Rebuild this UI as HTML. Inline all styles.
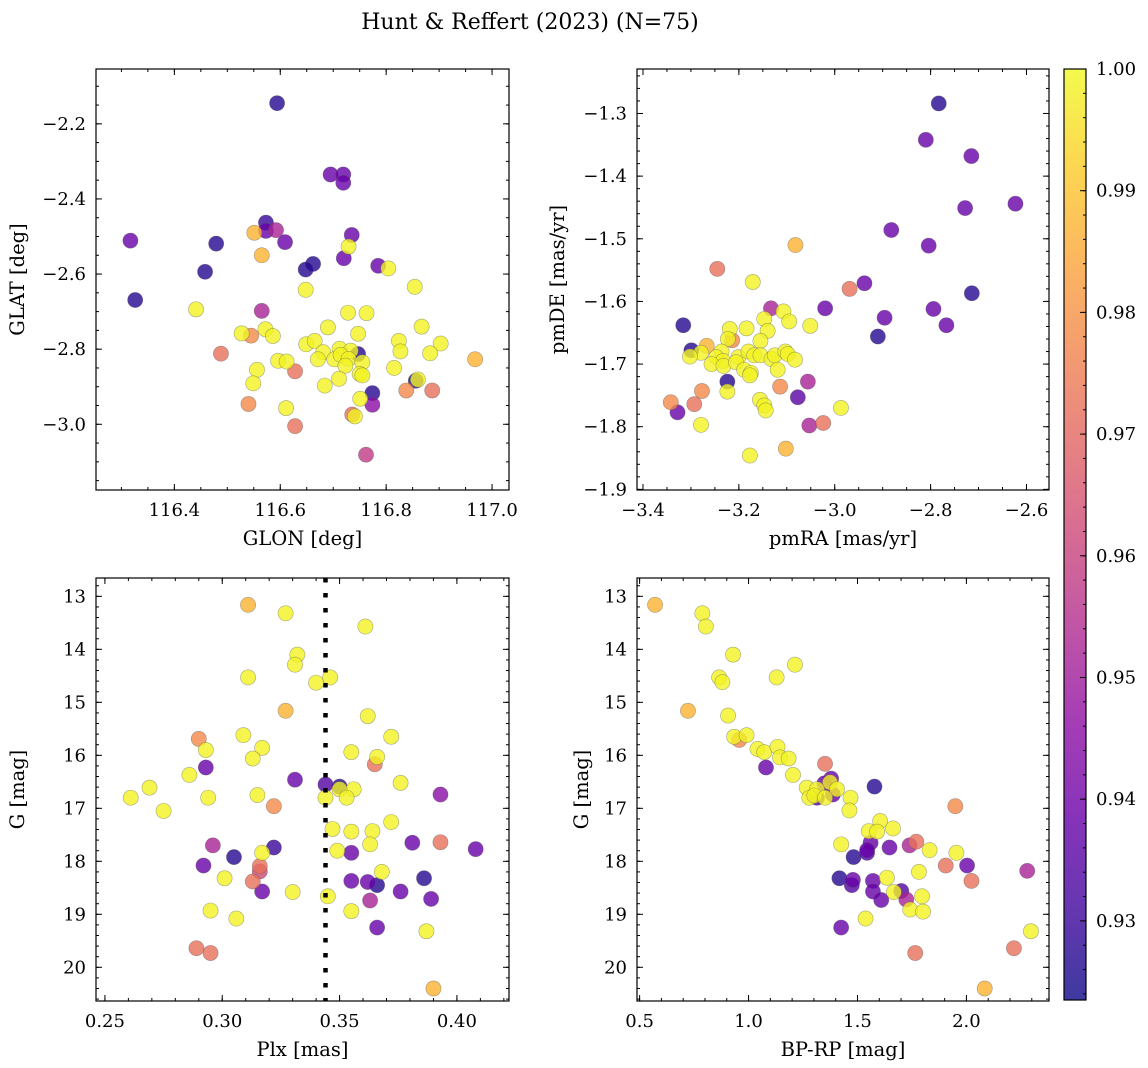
<!DOCTYPE html>
<html><head><meta charset="utf-8">
<style>
html,body{margin:0;padding:0;background:#fff;}
svg{display:block;font-family:"DejaVu Serif","Liberation Serif",serif;}
</style></head>
<body>
<svg id="chart" width="1148" height="1068" viewBox="0 0 1148 1068" xmlns="http://www.w3.org/2000/svg">
<text x="530" y="29" font-size="22" text-anchor="middle">Hunt &amp; Reffert (2023) (N=75)</text>
</svg>
<script>
// Panel 1: GLON vs GLAT
const p1Lon=[116.594,116.695,116.719,116.719,116.573,116.573,116.592,116.551,116.317,116.479,116.609,116.735,116.729,116.565,116.720,116.662,116.648,116.458,116.785,116.804,116.854,116.648,116.326,116.441,116.565,116.728,116.763,116.690,116.867,116.572,116.527,116.545,116.586,116.747,116.824,116.903,116.649,116.665,116.681,116.712,116.733,116.747,116.827,116.883,116.488,116.671,116.702,116.714,116.729,116.755,116.968,116.596,116.612,116.723,116.815,116.556,116.628,116.750,116.755,116.711,116.856,116.860,116.549,116.684,116.774,116.838,116.887,116.751,116.540,116.774,116.611,116.736,116.741,116.628,116.762];
const p1Lat=[-2.145,-2.335,-2.335,-2.357,-2.463,-2.485,-2.483,-2.490,-2.511,-2.519,-2.515,-2.496,-2.527,-2.550,-2.558,-2.573,-2.588,-2.594,-2.578,-2.585,-2.634,-2.642,-2.669,-2.694,-2.698,-2.703,-2.704,-2.742,-2.740,-2.747,-2.758,-2.764,-2.765,-2.759,-2.778,-2.785,-2.787,-2.778,-2.808,-2.799,-2.804,-2.813,-2.806,-2.811,-2.812,-2.827,-2.827,-2.815,-2.826,-2.835,-2.827,-2.831,-2.833,-2.844,-2.850,-2.855,-2.859,-2.866,-2.870,-2.879,-2.884,-2.881,-2.891,-2.897,-2.917,-2.910,-2.910,-2.932,-2.946,-2.948,-2.957,-2.974,-2.979,-3.005,-3.081];
const p1Prob=[0.927,0.938,0.938,0.938,0.930,0.938,0.952,0.987,0.938,0.927,0.938,0.938,0.999,0.987,0.938,0.927,0.927,0.927,0.938,0.999,0.999,0.999,0.927,0.999,0.952,0.999,0.999,0.999,0.999,0.999,0.999,0.978,0.999,0.999,0.999,0.999,0.999,0.999,0.999,0.999,0.999,0.927,0.999,0.999,0.972,0.999,0.999,0.999,0.999,0.999,0.987,0.999,0.999,0.999,0.999,0.999,0.972,0.999,0.999,0.999,0.927,0.999,0.999,0.999,0.927,0.978,0.972,0.999,0.978,0.945,0.999,0.972,0.999,0.972,0.958];
// Panel 2: pmRA vs pmDE
const p2Ra=[-2.783,-2.810,-2.715,-2.728,-2.623,-2.882,-2.804,-3.082,-3.245,-3.171,-2.969,-2.938,-2.714,-3.020,-2.794,-3.133,-3.107,-3.147,-3.095,-2.896,-2.767,-3.316,-3.051,-3.219,-3.184,-3.140,-3.155,-3.214,-3.223,-2.910,-3.267,-3.299,-3.279,-3.236,-3.302,-3.247,-3.233,-3.201,-3.180,-3.168,-3.155,-3.132,-3.125,-3.103,-3.098,-3.083,-3.257,-3.232,-3.206,-3.189,-3.175,-3.177,-3.119,-3.224,-3.056,-3.114,-3.224,-3.277,-3.077,-3.156,-3.147,-3.144,-3.342,-3.293,-3.328,-2.987,-3.053,-3.024,-3.279,-3.102,-3.177];
const p2De=[-1.284,-1.342,-1.368,-1.451,-1.444,-1.486,-1.511,-1.510,-1.548,-1.569,-1.580,-1.571,-1.587,-1.611,-1.612,-1.611,-1.616,-1.628,-1.632,-1.626,-1.638,-1.638,-1.639,-1.644,-1.643,-1.647,-1.663,-1.662,-1.660,-1.656,-1.671,-1.678,-1.682,-1.680,-1.688,-1.689,-1.695,-1.689,-1.680,-1.686,-1.686,-1.692,-1.686,-1.680,-1.684,-1.693,-1.700,-1.703,-1.697,-1.709,-1.714,-1.718,-1.709,-1.728,-1.728,-1.736,-1.744,-1.743,-1.753,-1.757,-1.766,-1.774,-1.761,-1.764,-1.777,-1.770,-1.798,-1.794,-1.797,-1.835,-1.846];
const p2Prob=[0.927,0.938,0.938,0.938,0.938,0.938,0.938,0.987,0.972,0.999,0.972,0.938,0.927,0.938,0.938,0.952,0.999,0.999,0.999,0.938,0.938,0.927,0.999,0.999,0.999,0.999,0.999,0.978,0.999,0.927,0.987,0.927,0.999,0.999,0.999,0.999,0.999,0.999,0.999,0.999,0.999,0.999,0.999,0.999,0.999,0.999,0.999,0.999,0.999,0.999,0.999,0.999,0.999,0.927,0.952,0.978,0.999,0.978,0.936,0.999,0.999,0.999,0.978,0.972,0.938,0.999,0.952,0.972,0.999,0.987,0.999];
// Panel 3: Plx vs G
const p3Plx=[0.311,0.327,0.361,0.332,0.331,0.311,0.340,0.346,0.327,0.362,0.290,0.309,0.372,0.293,0.317,0.313,0.355,0.366,0.365,0.293,0.286,0.331,0.344,0.350,0.376,0.269,0.356,0.350,0.393,0.261,0.294,0.315,0.344,0.353,0.275,0.322,0.372,0.347,0.355,0.364,0.296,0.322,0.317,0.349,0.355,0.363,0.381,0.393,0.408,0.305,0.292,0.316,0.316,0.301,0.313,0.368,0.355,0.362,0.366,0.386,0.317,0.330,0.345,0.376,0.363,0.389,0.295,0.355,0.306,0.366,0.387,0.289,0.295,0.390];
const p3G=[13.16,13.32,13.57,14.10,14.29,14.53,14.63,14.53,15.16,15.26,15.69,15.62,15.65,15.90,15.86,16.06,15.94,16.03,16.17,16.23,16.37,16.46,16.55,16.59,16.52,16.61,16.64,16.64,16.74,16.80,16.80,16.75,16.80,16.80,17.05,16.96,17.26,17.39,17.44,17.43,17.70,17.74,17.84,17.80,17.84,17.68,17.65,17.64,17.77,17.92,18.08,18.09,18.19,18.32,18.38,18.20,18.37,18.39,18.45,18.32,18.57,18.58,18.66,18.57,18.74,18.71,18.93,18.94,19.08,19.25,19.32,19.64,19.73,20.40];
const p3Prob=[0.987,0.999,0.999,0.999,0.999,0.999,0.999,0.999,0.987,0.999,0.978,0.999,0.999,0.999,0.999,0.999,0.999,0.999,0.972,0.938,0.999,0.938,0.934,0.927,0.999,0.999,0.999,0.999,0.945,0.999,0.999,0.999,0.999,0.999,0.999,0.978,0.999,0.999,0.999,0.999,0.952,0.930,0.999,0.999,0.938,0.999,0.938,0.972,0.938,0.927,0.938,0.972,0.962,0.999,0.972,0.999,0.938,0.938,0.927,0.927,0.938,0.999,0.999,0.938,0.952,0.938,0.999,0.999,0.999,0.938,0.999,0.972,0.972,0.987];
const plxLine=[0.344];
// Panel 4: BP-RP vs G
const p4Col=[0.571,0.788,0.804,0.929,1.213,0.865,0.880,1.129,0.722,0.906,0.957,0.934,0.991,1.041,1.072,1.133,1.144,1.184,1.351,1.080,1.204,1.379,1.348,1.578,1.374,1.267,1.314,1.406,1.387,1.279,1.314,1.302,1.351,1.468,1.463,1.949,1.604,1.552,1.590,1.663,1.425,1.560,1.544,1.544,1.647,1.739,1.770,1.831,1.954,1.482,1.905,2.003,2.279,1.782,2.023,1.417,1.479,1.474,1.571,1.635,1.571,1.701,1.667,1.609,1.724,1.796,1.742,1.801,1.537,1.425,2.296,2.218,1.765,2.084];
const p4G=[13.16,13.32,13.57,14.10,14.29,14.53,14.62,14.53,15.16,15.25,15.71,15.65,15.62,15.88,15.94,15.84,16.04,16.06,16.16,16.23,16.37,16.44,16.53,16.59,16.51,16.61,16.64,16.64,16.74,16.80,16.80,16.76,16.80,16.80,17.04,16.96,17.24,17.43,17.44,17.38,17.68,17.65,17.79,17.84,17.74,17.70,17.63,17.79,17.84,17.92,18.08,18.08,18.18,18.20,18.37,18.32,18.35,18.45,18.37,18.31,18.57,18.56,18.58,18.73,18.72,18.66,18.91,18.95,19.08,19.25,19.32,19.64,19.73,20.40];
const p4Prob=[0.987,0.999,0.999,0.999,0.999,0.999,0.999,0.999,0.987,0.999,0.978,0.999,0.999,0.999,0.999,0.999,0.999,0.999,0.972,0.938,0.999,0.938,0.938,0.927,0.999,0.999,0.999,0.999,0.938,0.999,0.934,0.999,0.999,0.999,0.999,0.978,0.999,0.999,0.999,0.999,0.999,0.938,0.938,0.934,0.938,0.952,0.972,0.999,0.999,0.927,0.972,0.938,0.952,0.999,0.972,0.927,0.938,0.934,0.938,0.999,0.938,0.934,0.999,0.938,0.952,0.999,0.999,0.999,0.999,0.938,0.999,0.972,0.972,0.987];
// Colorbar ticks
const cbTicks=[0.93,0.94,0.95,0.96,0.97,0.98,0.99,1.00];
const cbMin=0.9235, cbMax=1.0;

const NS="http://www.w3.org/2000/svg";
const svg=document.getElementById('chart');
function mk(tag,attrs,parent){const e=document.createElementNS(NS,tag);for(const k in attrs)e.setAttribute(k,attrs[k]);(parent||svg).appendChild(e);return e;}
const stops=[[13,8,135],[65,4,157],[106,0,168],[143,13,164],[177,42,144],[204,71,120],[225,100,98],[242,132,75],[252,166,54],[252,206,37],[240,249,33]];
function plasma(t){t=Math.max(0,Math.min(1,t));const f=t*10,i=Math.min(9,Math.floor(f)),u=f-i;const a=stops[i],b=stops[i+1];return 'rgb('+a.map((v,k)=>Math.round(v+(b[k]-v)*u)).join(',')+')';}
function pcol(p){return plasma((p-cbMin)/(cbMax-cbMin));}
function fmt(v,d){return (v<0?'\u2212':'')+Math.abs(v).toFixed(d);}
function ticks(a,b,s){const out=[];const st=Math.ceil(Math.min(a,b)/s-1e-6);for(let k=st;k*s<=Math.max(a,b)+1e-9;k++)out.push(+(k*s).toFixed(6));return out;}

function panel(cfg){
  const {name,L,T,R,B,xd,yd,xMaj,xMin,yMaj,yMin,xDec,yDec,xs,ys,ps,xlab,ylab,ylx}=cfg;
  const g=mk('g',{});
  
  
  const X=v=>L+(v-xd[0])/(xd[1]-xd[0])*(R-L);
  const Y=v=>T+(v-yd[0])/(yd[1]-yd[0])*(B-T);
  mk('rect',{x:L,y:T,width:R-L,height:B-T,fill:'#fff'},g);
  const idx=ps.map((p,i)=>i).sort((a,b)=>ps[a]-ps[b]);
  const pg=mk('g',{},g);
  
  
  idx.forEach(i=>{
    const c=mk('circle',{cx:X(xs[i]),cy:Y(ys[i]),r:7.6,fill:pcol(ps[i]),'fill-opacity':0.8,stroke:'#555','stroke-opacity':0.5,'stroke-width':0.6},pg);
    
    
  });
  if(cfg.extra)cfg.extra(g,X,Y);
  const tg=mk('g',{stroke:'#000','stroke-width':1},g);
  ticks(xd[0],xd[1],xMin).forEach(v=>{const x=X(v);mk('line',{x1:x,x2:x,y1:B,y2:B-3},tg);mk('line',{x1:x,x2:x,y1:T,y2:T+3},tg);});
  ticks(xd[0],xd[1],xMaj).forEach(v=>{const x=X(v);mk('line',{x1:x,x2:x,y1:B,y2:B-6},tg);mk('line',{x1:x,x2:x,y1:T,y2:T+6},tg);
    const t=mk('text',{x:x,y:B+26,'font-size':18,'text-anchor':'middle',stroke:'none',fill:'#000'},g);t.textContent=fmt(v,xDec);
    
    });
  ticks(Math.min(...yd),Math.max(...yd),yMin).forEach(v=>{const y=Y(v);mk('line',{x1:L,x2:L+3,y1:y,y2:y},tg);mk('line',{x1:R,x2:R-3,y1:y,y2:y},tg);});
  ticks(Math.min(...yd),Math.max(...yd),yMaj).forEach(v=>{const y=Y(v);mk('line',{x1:L,x2:L+6,y1:y,y2:y},tg);mk('line',{x1:R,x2:R-6,y1:y,y2:y},tg);
    const t=mk('text',{x:L-10,y:y+6,'font-size':18,'text-anchor':'end',fill:'#000'},g);t.textContent=fmt(v,yDec);
    
    });
  const fr=mk('rect',{x:L,y:T,width:R-L,height:B-T,fill:'none',stroke:'#000','stroke-width':1.2},g);
  
  
  const xl=mk('text',{x:(L+R)/2,y:B+55,'font-size':19.5,'text-anchor':'middle'},g);xl.textContent=xlab;
  
  
  const yl=mk('text',{x:0,y:0,'font-size':19.5,'text-anchor':'middle',transform:'translate('+ylx+','+((T+B)/2)+') rotate(-90)'},g);yl.textContent=ylab;
  
  
}

panel({name:'glon-glat-panel',L:96,T:69,R:509,B:490,xd:[116.252,117.032],yd:[-2.054,-3.175],xMaj:0.2,xMin:0.05,yMaj:0.2,yMin:0.05,xDec:1,yDec:1,xs:p1Lon,ys:p1Lat,ps:p1Prob,xlab:'GLON [deg]',ylab:'GLAT [deg]',ylx:24});
panel({name:'pm-panel',L:637,T:69,R:1049,B:490,xd:[-3.4125,-2.553],yd:[-1.229,-1.901],xMaj:0.2,xMin:0.05,yMaj:0.1,yMin:0.02,xDec:1,yDec:1,xs:p2Ra,ys:p2De,ps:p2Prob,xlab:'pmRA [mas/yr]',ylab:'pmDE [mas/yr]',ylx:564});
panel({name:'plx-g-panel',L:96,T:578,R:509,B:1001,xd:[0.2462,0.4222],yd:[12.654,20.636],xMaj:0.05,xMin:0.01,yMaj:1,yMin:0.2,xDec:2,yDec:0,xs:p3Plx,ys:p3G,ps:p3Prob,xlab:'Plx [mas]',ylab:'G [mag]',ylx:24,
  extra:(g,X,Y)=>{const l=mk('line',{x1:X(plxLine[0]),x2:X(plxLine[0]),y1:578,y2:1001,stroke:'#000','stroke-width':4.5,'stroke-dasharray':'4.5,10.5'},g);
    
    }});
panel({name:'cmd-panel',L:637,T:578,R:1049,B:1001,xd:[0.488,2.379],yd:[12.654,20.636],xMaj:0.5,xMin:0.1,yMaj:1,yMin:0.2,xDec:1,yDec:0,xs:p4Col,ys:p4G,ps:p4Prob,xlab:'BP-RP [mag]',ylab:'G [mag]',ylx:588});

// Colorbar
const cb=mk('g',{});


const cL=1064,cR=1086,cT=69,cB=1000;
const defs=mk('defs',{},svg);
const lg=mk('linearGradient',{id:'cbg',x1:0,y1:1,x2:0,y2:0},defs);
for(let i=0;i<=20;i++){mk('stop',{offset:i/20,'stop-color':plasma(i/20)},lg);}
mk('rect',{x:cL,y:cT,width:cR-cL,height:cB-cT,fill:'url(#cbg)','fill-opacity':0.8},cb);
const CY=v=>cB-(v-cbMin)/(cbMax-cbMin)*(cB-cT);
ticks(cbMin,cbMax,0.002).forEach(v=>{const y=CY(v);mk('line',{x1:cR,x2:cR-3,y1:y,y2:y,stroke:'#000'},cb);});
cbTicks.forEach(v=>{const y=CY(v);mk('line',{x1:cR,x2:cR-6,y1:y,y2:y,stroke:'#000'},cb);
  const t=mk('text',{x:cR+10,y:y+6,'font-size':18},cb);t.textContent=v.toFixed(2);
  
  });
mk('rect',{x:cL,y:cT,width:cR-cL,height:cB-cT,fill:'none',stroke:'#000','stroke-width':1.2},cb);
</script>
</body></html>
